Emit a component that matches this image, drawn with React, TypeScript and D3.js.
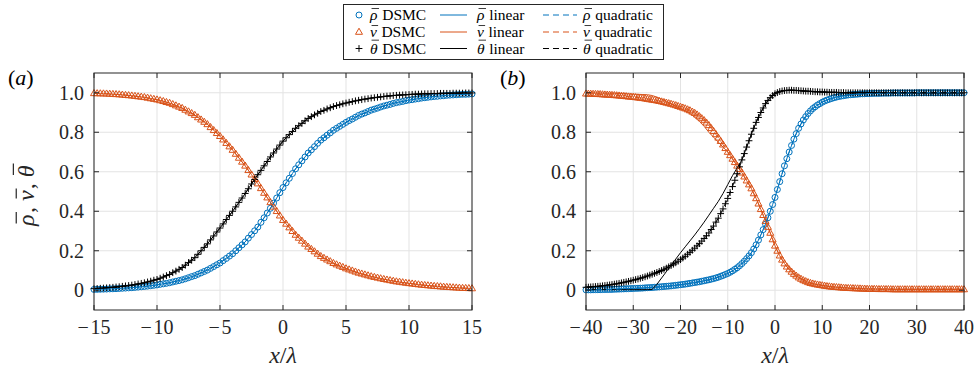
import React from 'react';
import * as d3 from 'd3';

const BLUE = '#0072BD';
const ORANGE = '#D95319';
const BLACK = '#000000';
const AXIS = '#262626';
const GRID = '#e3e3e3';

// ---------- shared y axis ----------
const yTicks = [0, 0.2, 0.4, 0.6, 0.8, 1.0];
const yTickLabels = ['0', '0.2', '0.4', '0.6', '0.8', '1.0'];

// ---------- panel (a): x/λ from -15 to 15 ----------
const xTicksA = [-15, -10, -5, 0, 5, 10, 15];
const xStartA = -15;
const xStepA = 0.25;
const rhoDsmcA = [
  0.004, 0.0045, 0.005, 0.0055, 0.006, 0.007, 0.0075, 0.008, 0.009, 0.010, 0.011, 0.012,
  0.013, 0.0145, 0.016, 0.0175, 0.019, 0.021, 0.023, 0.025, 0.027, 0.030, 0.0325, 0.035,
  0.038, 0.042, 0.0455, 0.049, 0.053, 0.058, 0.0635, 0.069, 0.074, 0.081, 0.088, 0.095,
  0.102, 0.111, 0.120, 0.129, 0.138, 0.150, 0.161, 0.173, 0.185, 0.200, 0.215, 0.230,
  0.245, 0.264, 0.282, 0.301, 0.320, 0.344, 0.367, 0.391, 0.415, 0.441, 0.467, 0.494,
  0.520, 0.544, 0.567, 0.591, 0.615, 0.635, 0.655, 0.675, 0.695, 0.711, 0.727, 0.744,
  0.760, 0.772, 0.785, 0.797, 0.810, 0.820, 0.830, 0.840, 0.850, 0.859, 0.867, 0.876,
  0.885, 0.892, 0.898, 0.905, 0.912, 0.917, 0.922, 0.928, 0.933, 0.937, 0.941, 0.946,
  0.950, 0.953, 0.956, 0.960, 0.963, 0.965, 0.968, 0.970, 0.973, 0.975, 0.977, 0.979,
  0.981, 0.982, 0.984, 0.985, 0.987, 0.988, 0.989, 0.990, 0.991, 0.992, 0.992, 0.993,
  0.994,
];
const vDsmcA = [
  0.997, 0.9965, 0.996, 0.9955, 0.995, 0.994, 0.993, 0.992, 0.991, 0.9895, 0.988, 0.9865,
  0.985, 0.983, 0.981, 0.979, 0.977, 0.974, 0.971, 0.968, 0.965, 0.961, 0.957, 0.952,
  0.948, 0.9415, 0.935, 0.9285, 0.922, 0.913, 0.9045, 0.896, 0.887, 0.875, 0.8635, 0.852,
  0.840, 0.825, 0.810, 0.795, 0.780, 0.7625, 0.745, 0.7275, 0.710, 0.690, 0.670, 0.650,
  0.630, 0.6075, 0.585, 0.5625, 0.540, 0.516, 0.4925, 0.469, 0.445, 0.4225, 0.400, 0.3775,
  0.355, 0.336, 0.3175, 0.299, 0.280, 0.265, 0.250, 0.235, 0.220, 0.208, 0.196, 0.184,
  0.172, 0.163, 0.1545, 0.146, 0.137, 0.130, 0.1235, 0.117, 0.110, 0.1045, 0.099, 0.0935,
  0.088, 0.0835, 0.079, 0.0745, 0.070, 0.0665, 0.063, 0.0595, 0.056, 0.053, 0.050, 0.047,
  0.044, 0.042, 0.0395, 0.037, 0.035, 0.033, 0.031, 0.029, 0.027, 0.0255, 0.024, 0.0225,
  0.021, 0.020, 0.0185, 0.017, 0.016, 0.015, 0.014, 0.013, 0.012, 0.011, 0.0105, 0.0098,
  0.009,
];
const thetaDsmcA = [
  0.008, 0.009, 0.010, 0.011, 0.012, 0.0135, 0.015, 0.0165, 0.018, 0.020, 0.022, 0.024,
  0.026, 0.029, 0.032, 0.035, 0.038, 0.042, 0.046, 0.051, 0.055, 0.061, 0.067, 0.074,
  0.080, 0.089, 0.097, 0.106, 0.115, 0.127, 0.140, 0.152, 0.165, 0.182, 0.200, 0.217,
  0.235, 0.255, 0.275, 0.295, 0.315, 0.336, 0.358, 0.379, 0.400, 0.422, 0.445, 0.467,
  0.490, 0.514, 0.538, 0.561, 0.585, 0.607, 0.630, 0.652, 0.675, 0.695, 0.715, 0.735,
  0.755, 0.772, 0.788, 0.804, 0.820, 0.833, 0.845, 0.858, 0.870, 0.879, 0.888, 0.896,
  0.905, 0.911, 0.918, 0.924, 0.930, 0.935, 0.939, 0.944, 0.948, 0.952, 0.955, 0.959,
  0.962, 0.965, 0.968, 0.970, 0.973, 0.975, 0.977, 0.979, 0.981, 0.983, 0.984, 0.986,
  0.987, 0.988, 0.989, 0.990, 0.991, 0.992, 0.993, 0.993, 0.994, 0.995, 0.995, 0.996,
  0.996, 0.996, 0.997, 0.997, 0.997, 0.997, 0.998, 0.998, 0.998, 0.998, 0.999, 0.999,
  0.999,
];
// model curves in (a) coincide with the DSMC profiles
const rhoLinearA = rhoDsmcA;
const vLinearA = vDsmcA;
const thetaLinearA = thetaDsmcA;
const rhoQuadA = rhoDsmcA;
const vQuadA = vDsmcA;
const thetaQuadA = thetaDsmcA;

// ---------- panel (b): x/λ from -40 to 40 ----------
const xTicksB = [-40, -30, -20, -10, 0, 10, 20, 30, 40];
const xStartB = -40;
const xStepB = 0.5;
const rhoDsmcB = [
  0.002, 0.002, 0.002, 0.0025, 0.003, 0.003, 0.003, 0.0035, 0.004, 0.004,
  0.004, 0.0045, 0.005, 0.0055, 0.006, 0.0065, 0.007, 0.0075, 0.008, 0.0085,
  0.009, 0.0095, 0.010, 0.0105, 0.011, 0.012, 0.013, 0.0135, 0.014, 0.015,
  0.016, 0.017, 0.018, 0.019, 0.020, 0.021, 0.022, 0.0235, 0.025, 0.0265,
  0.028, 0.0295, 0.031, 0.033, 0.035, 0.037, 0.039, 0.041, 0.043, 0.0455,
  0.048, 0.0505, 0.053, 0.056, 0.059, 0.0625, 0.066, 0.0705, 0.075, 0.080,
  0.085, 0.091, 0.098, 0.106, 0.114, 0.124, 0.135, 0.147, 0.160, 0.174,
  0.190, 0.209, 0.230, 0.254, 0.280, 0.307, 0.335, 0.367, 0.400, 0.434,
  0.470, 0.510, 0.550, 0.590, 0.630, 0.666, 0.700, 0.733, 0.765, 0.793,
  0.820, 0.842, 0.862, 0.879, 0.895, 0.908, 0.920, 0.929, 0.938, 0.945,
  0.952, 0.958, 0.963, 0.967, 0.971, 0.975, 0.978, 0.981, 0.983, 0.985,
  0.987, 0.989, 0.990, 0.991, 0.992, 0.993, 0.994, 0.9945, 0.995, 0.9955,
  0.996, 0.9965, 0.997, 0.997, 0.997, 0.9975, 0.998, 0.998, 0.998, 0.9985,
  0.999, 0.999, 0.999, 0.999, 0.999, 0.999, 0.999, 0.999, 0.999, 0.999,
  1, 1, 1, 1, 1, 1, 1, 1, 1, 1, 1, 1, 1, 1, 1, 1, 1, 1, 1, 1, 1,
];
const vDsmcB = [
  0.995, 0.9945, 0.994, 0.9935, 0.993, 0.9925, 0.992, 0.991, 0.990, 0.9895,
  0.989, 0.988, 0.987, 0.986, 0.985, 0.984, 0.983, 0.9815, 0.980, 0.979,
  0.978, 0.9765, 0.975, 0.9735, 0.972, 0.970, 0.968, 0.966, 0.964, 0.962,
  0.960, 0.9575, 0.955, 0.952, 0.949, 0.946, 0.943, 0.9395, 0.936, 0.932,
  0.928, 0.924, 0.920, 0.915, 0.910, 0.9035, 0.897, 0.889, 0.880, 0.870,
  0.860, 0.848, 0.835, 0.820, 0.805, 0.789, 0.772, 0.755, 0.737, 0.719,
  0.700, 0.683, 0.665, 0.648, 0.630, 0.613, 0.595, 0.575, 0.555, 0.535,
  0.515, 0.490, 0.465, 0.438, 0.410, 0.380, 0.350, 0.320, 0.290, 0.257,
  0.225, 0.199, 0.175, 0.154, 0.135, 0.119, 0.105, 0.093, 0.082, 0.073,
  0.064, 0.057, 0.050, 0.045, 0.040, 0.036, 0.033, 0.030, 0.028, 0.026,
  0.024, 0.022, 0.020, 0.0185, 0.017, 0.016, 0.015, 0.014, 0.013, 0.012,
  0.011, 0.0105, 0.010, 0.0095, 0.009, 0.0085, 0.008, 0.0075, 0.007, 0.0065,
  0.006, 0.006, 0.006, 0.0055, 0.005, 0.005, 0.005, 0.005, 0.005, 0.0045,
  0.004, 0.004, 0.004, 0.004, 0.004, 0.004, 0.004, 0.004, 0.004, 0.004,
  0.004, 0.004, 0.004, 0.004, 0.004, 0.004, 0.004, 0.004, 0.004, 0.004,
  0.004, 0.004, 0.004, 0.004, 0.004, 0.004, 0.004, 0.004, 0.004, 0.004, 0.004,
];
const thetaDsmcB = [
  0.015, 0.016, 0.017, 0.018, 0.019, 0.020, 0.021, 0.0225, 0.024, 0.0255,
  0.027, 0.029, 0.031, 0.033, 0.035, 0.0375, 0.040, 0.0425, 0.045, 0.048,
  0.051, 0.054, 0.057, 0.0605, 0.064, 0.068, 0.072, 0.0765, 0.081, 0.0855,
  0.090, 0.095, 0.100, 0.106, 0.112, 0.1185, 0.125, 0.132, 0.139, 0.147,
  0.155, 0.1635, 0.172, 0.182, 0.192, 0.2025, 0.213, 0.2245, 0.236, 0.249,
  0.262, 0.276, 0.290, 0.3075, 0.325, 0.345, 0.365, 0.388, 0.412, 0.438,
  0.465, 0.495, 0.525, 0.557, 0.590, 0.625, 0.660, 0.692, 0.725, 0.757,
  0.790, 0.820, 0.850, 0.875, 0.900, 0.923, 0.945, 0.961, 0.975, 0.986,
  0.995, 1.001, 1.006, 1.009, 1.011, 1.012, 1.013, 1.013, 1.012, 1.012,
  1.011, 1.010, 1.009, 1.008, 1.008, 1.007, 1.006, 1.005, 1.005, 1.004,
  1.004, 1.003, 1.003, 1.002, 1.002, 1.002, 1.002, 1.001, 1.001, 1.001,
  1, 1, 1, 1, 1, 1, 1, 1, 1, 1, 1, 1, 1, 1, 1, 1, 1, 1, 1, 1,
  1, 1, 1, 1, 1, 1, 1, 1, 1, 1, 1, 1, 1, 1, 1, 1, 1, 1, 1, 1,
  1, 1, 1, 1, 1, 1, 1, 1, 1, 1, 1,
];
// linear-model curves in (b), sampled every 1 λ
const xLineStartB = -40;
const xLineStepB = 1;
const vLinearB = [
  1.000, 1.000, 0.999, 0.999, 0.998, 0.997, 0.997, 0.996, 0.995, 0.994,
  0.993, 0.992, 0.991, 0.990, 0.986, 0.978, 0.967, 0.956, 0.944, 0.932,
  0.920, 0.908, 0.895, 0.876, 0.855, 0.830, 0.800, 0.775, 0.750, 0.725,
  0.700, 0.665, 0.630, 0.595, 0.555, 0.515, 0.465, 0.410, 0.350, 0.290,
  0.225, 0.175, 0.135, 0.105, 0.082, 0.064, 0.050, 0.040, 0.033, 0.028,
  0.024, 0.020, 0.017, 0.015, 0.013, 0.011, 0.010, 0.009, 0.008, 0.007,
  0.006, 0.006, 0.005, 0.005, 0.005, 0.004, 0.004, 0.004, 0.004, 0.004,
  0.004, 0.004, 0.004, 0.004, 0.004, 0.004, 0.004, 0.004, 0.004, 0.004, 0.004,
];
const thetaLinearB = [
  0.003, 0.003, 0.003, 0.003, 0.003, 0.003, 0.003, 0.003, 0.003, 0.003,
  0.003, 0.003, 0.003, 0.003, 0.004, 0.030, 0.062, 0.094, 0.126, 0.158,
  0.190, 0.220, 0.250, 0.280, 0.312, 0.345, 0.380, 0.415, 0.450, 0.490,
  0.535, 0.580, 0.620, 0.660, 0.725, 0.790, 0.850, 0.900, 0.945, 0.975,
  0.995, 1.006, 1.011, 1.013, 1.012, 1.011, 1.009, 1.008, 1.006, 1.005,
  1.004, 1.003, 1.002, 1.002, 1.001, 1, 1, 1, 1, 1,
  1, 1, 1, 1, 1, 1, 1, 1, 1, 1,
  1, 1, 1, 1, 1, 1, 1, 1, 1, 1, 1,
];
const rhoLinearB = rhoDsmcB;
const rhoQuadB = rhoDsmcB;
const vQuadB = vDsmcB;
const thetaQuadB = thetaDsmcB;

// legend / label text
const symbolNames = ['\u03C1', 'v', '\u03B8'];
const legendSuffixes = ['DSMC', 'linear', 'quadratic'];

type MarkerKind = 'circle' | 'triangle' | 'plus';

function Marker({ kind, cx, cy, color }: { kind: MarkerKind; cx: number; cy: number; color: string }) {
  if (kind === 'circle') {
    return <circle cx={cx} cy={cy} r={3} fill="none" stroke={color} strokeWidth={1} />;
  }
  if (kind === 'triangle') {
    const d = `M${cx},${cy - 3.8}L${cx + 3.5},${cy + 2.3}L${cx - 3.5},${cy + 2.3}Z`;
    return <path d={d} fill="none" stroke={color} strokeWidth={1} />;
  }
  const d = `M${cx - 3.4},${cy}L${cx + 3.4},${cy}M${cx},${cy - 3.4}L${cx},${cy + 3.4}`;
  return <path d={d} fill="none" stroke={color} strokeWidth={1} />;
}

const SERIF = '"Liberation Serif", "Times New Roman", serif';

function fmtTick(v: number) {
  if (v < 0) return '\u2212\u200A' + Math.abs(v);
  return String(v);
}

// italic symbol with an over-bar; letter starts at x (baseline y)
const LETTER_W = [0.5, 0.444, 0.5];
function BarSymbol({ idx, x, y, size, fill }: { idx: number; x: number; y: number; size: number; fill: string }) {
  const w = LETTER_W[idx] * size;
  const barY = y - size * (idx === 2 ? 0.86 : 0.74);
  return (
    <g>
      <text x={x} y={y} fontFamily={SERIF} fontStyle="italic" fontSize={size} fill={fill}>
        {symbolNames[idx]}
      </text>
      <line x1={x + size * 0.1} x2={x + w + size * 0.08} y1={barY} y2={barY} stroke={fill} strokeWidth={size * 0.05} />
    </g>
  );
}

type MarkerSeries = { values: number[]; start: number; step: number; color: string; kind: MarkerKind };
type LineSeries = { values: number[]; start: number; step: number; color: string; dashed: boolean };

function Panel({
  left, right, top, bottom, xDomain, xTicks, markers, lines, label,
}: {
  left: number; right: number; top: number; bottom: number; xDomain: [number, number];
  xTicks: number[]; markers: MarkerSeries[]; lines: LineSeries[]; label: string;
}) {
  const x = d3.scaleLinear().domain(xDomain).range([left, right]);
  const y = d3.scaleLinear().domain([-0.1, 1.1]).range([bottom, top]);
  const tl = 5;
  return (
    <g>
      {xTicks.map((t) => (
        <line key={'gx' + t} x1={x(t)} x2={x(t)} y1={top} y2={bottom} stroke={GRID} strokeWidth={1} />
      ))}
      {yTicks.map((t) => (
        <line key={'gy' + t} x1={left} x2={right} y1={y(t)} y2={y(t)} stroke={GRID} strokeWidth={1} />
      ))}
      {markers.map((s, si) => (
        <g key={'m' + si}>
          {s.values.map((v, i) => (
            <Marker key={i} kind={s.kind} cx={x(s.start + i * s.step)} cy={y(v)} color={s.color} />
          ))}
        </g>
      ))}
      {lines.map((s, si) => {
        const gen = d3
          .line<number>()
          .x((_, i) => x(s.start + i * s.step))
          .y((v) => y(v));
        return (
          <path
            key={'l' + si}
            d={gen(s.values) || ''}
            fill="none"
            stroke={s.color}
            strokeWidth={1}
            strokeDasharray={s.dashed ? '6,4' : undefined}
          />
        );
      })}
      <rect x={left} y={top} width={right - left} height={bottom - top} fill="none" stroke={AXIS} strokeWidth={1} />
      {xTicks.map((t) => (
        <g key={'tx' + t}>
          <line x1={x(t)} x2={x(t)} y1={bottom} y2={bottom - tl} stroke={AXIS} />
          <line x1={x(t)} x2={x(t)} y1={top} y2={top + tl} stroke={AXIS} />
          <text x={x(t)} y={334} textAnchor="middle" fontFamily={SERIF} fontSize={20} fill={AXIS}>
            {fmtTick(t)}
          </text>
        </g>
      ))}
      {yTicks.map((t, i) => (
        <g key={'ty' + t}>
          <line x1={left} x2={left + tl} y1={y(t)} y2={y(t)} stroke={AXIS} />
          <line x1={right} x2={right - tl} y1={y(t)} y2={y(t)} stroke={AXIS} />
          <text x={left - 10} y={y(t) + 7} textAnchor="end" fontFamily={SERIF} fontSize={20} fill={AXIS}>
            {yTickLabels[i]}
          </text>
        </g>
      ))}
      <text x={(left + right) / 2} y={363} textAnchor="middle" fontFamily={SERIF} fontSize={24} fill={AXIS}>
        <tspan fontStyle="italic">x</tspan>
        <tspan>/</tspan>
        <tspan fontStyle="italic">λ</tspan>
      </text>
      <text x={left - 86} y={85} fontFamily={SERIF} fontSize={22} fill={BLACK}>
        <tspan>(</tspan>
        <tspan fontStyle="italic">{label}</tspan>
        <tspan>)</tspan>
      </text>
    </g>
  );
}

const legendColors = [BLUE, ORANGE, BLACK];
const legendKinds: MarkerKind[] = ['circle', 'triangle', 'plus'];

function Legend() {
  const rowsY = [15, 32, 48.5];
  const fs = 15.5;
  const textX = [370, 477, 583];
  return (
    <g>
      <rect x={343.5} y={4.5} width={320} height={55} fill="#fff" stroke={AXIS} strokeWidth={1} />
      {rowsY.map((ry, i) => (
        <g key={i}>
          <Marker kind={legendKinds[i]} cx={359} cy={ry} color={legendColors[i]} />
          <line x1={440} x2={467} y1={ry} y2={ry} stroke={legendColors[i]} strokeWidth={1} />
          <line x1={543} x2={577} y1={ry} y2={ry} stroke={legendColors[i]} strokeWidth={1} strokeDasharray="6,4" />
          {textX.map((tx, c) => (
            <g key={c}>
              <BarSymbol idx={i} x={tx} y={ry + 5} size={fs} fill={BLACK} />
              <text x={tx + LETTER_W[i] * fs + 4.5} y={ry + 5} fontFamily={SERIF} fontSize={fs} fill={BLACK}>
                {legendSuffixes[c]}
              </text>
            </g>
          ))}
        </g>
      ))}
    </g>
  );
}

function YLabel() {
  const fs = 24;
  // positions along the rotated baseline
  const x0 = -31;
  const comma = 0.25 * fs;
  const space = 0.25 * fs;
  const p1 = x0;
  const c1 = p1 + LETTER_W[0] * fs + 1;
  const p2 = c1 + comma + space;
  const c2 = p2 + LETTER_W[1] * fs + 1;
  const p3 = c2 + comma + space;
  return (
    <g transform="translate(34,195) rotate(-90)">
      <BarSymbol idx={0} x={p1} y={0} size={fs} fill={AXIS} />
      <text x={c1} y={0} fontFamily={SERIF} fontSize={fs} fill={AXIS}>,</text>
      <BarSymbol idx={1} x={p2} y={0} size={fs} fill={AXIS} />
      <text x={c2} y={0} fontFamily={SERIF} fontSize={fs} fill={AXIS}>,</text>
      <BarSymbol idx={2} x={p3} y={0} size={fs} fill={AXIS} />
    </g>
  );
}

export default function App() {
  const markersA: MarkerSeries[] = [
    { values: rhoDsmcA, start: xStartA, step: xStepA, color: BLUE, kind: 'circle' },
    { values: vDsmcA, start: xStartA, step: xStepA, color: ORANGE, kind: 'triangle' },
    { values: thetaDsmcA, start: xStartA, step: xStepA, color: BLACK, kind: 'plus' },
  ];
  const linesA: LineSeries[] = [
    { values: rhoLinearA, start: xStartA, step: xStepA, color: BLUE, dashed: false },
    { values: vLinearA, start: xStartA, step: xStepA, color: ORANGE, dashed: false },
    { values: thetaLinearA, start: xStartA, step: xStepA, color: BLACK, dashed: false },
    { values: rhoQuadA, start: xStartA, step: xStepA, color: BLUE, dashed: true },
    { values: vQuadA, start: xStartA, step: xStepA, color: ORANGE, dashed: true },
    { values: thetaQuadA, start: xStartA, step: xStepA, color: BLACK, dashed: true },
  ];
  const markersB: MarkerSeries[] = [
    { values: rhoDsmcB, start: xStartB, step: xStepB, color: BLUE, kind: 'circle' },
    { values: vDsmcB, start: xStartB, step: xStepB, color: ORANGE, kind: 'triangle' },
    { values: thetaDsmcB, start: xStartB, step: xStepB, color: BLACK, kind: 'plus' },
  ];
  const linesB: LineSeries[] = [
    { values: rhoLinearB, start: xStartB, step: xStepB, color: BLUE, dashed: false },
    { values: vLinearB, start: xLineStartB, step: xLineStepB, color: ORANGE, dashed: false },
    { values: thetaLinearB, start: xLineStartB, step: xLineStepB, color: BLACK, dashed: false },
    { values: rhoQuadB, start: xStartB, step: xStepB, color: BLUE, dashed: true },
    { values: vQuadB, start: xStartB, step: xStepB, color: ORANGE, dashed: true },
    { values: thetaQuadB, start: xStartB, step: xStepB, color: BLACK, dashed: true },
  ];
  return (
    <svg width={976} height={372} style={{ position: 'absolute', left: 0, top: 0, background: '#fff' }}>
      <rect x={0} y={0} width={976} height={372} fill="#fff" />
      <Panel left={94} right={472} top={73} bottom={310} xDomain={[-15, 15]} xTicks={xTicksA}
        markers={markersA} lines={linesA} label="a" />
      <Panel left={586} right={964} top={73} bottom={310} xDomain={[-40, 40]} xTicks={xTicksB}
        markers={markersB} lines={linesB} label="b" />
      <YLabel />
      <Legend />
    </svg>
  );
}
